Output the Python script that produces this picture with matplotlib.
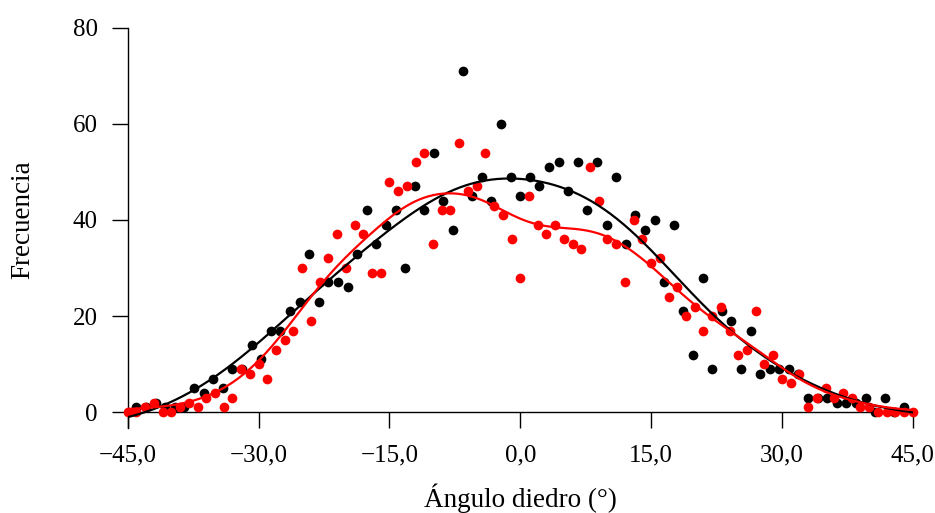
import numpy as np
import matplotlib.pyplot as plt
from matplotlib.ticker import FuncFormatter

plt.rcParams['font.family'] = ['Liberation Serif', 'DejaVu Serif']

# serie negra (paso 1,1 grados)
angulo_negro = [-44.0, -42.9, -41.8, -40.7, -39.6, -38.5, -37.4, -36.3, -35.2, -34.1,
                -33.0, -31.9, -30.8, -29.7, -28.6, -27.5, -26.4, -25.3, -24.2, -23.1,
                -22.0, -20.9, -19.8, -18.7, -17.6, -16.5, -15.4, -14.3, -13.2, -12.1,
                -11.0, -9.9, -8.8, -7.7, -6.6, -5.5, -4.4, -3.3, -2.2, -1.1,
                0.0, 1.1, 2.2, 3.3, 4.4, 5.5, 6.6, 7.7, 8.8, 9.9,
                11.0, 12.1, 13.2, 14.3, 15.4, 16.5, 17.6, 18.7, 19.8, 20.9,
                22.0, 23.1, 24.2, 25.3, 26.4, 27.5, 28.6, 29.7, 30.8, 31.9,
                33.0, 34.1, 35.2, 36.3, 37.4, 38.5, 39.6, 40.7, 41.8, 42.9, 44.0]
frec_negro = [1, 1, 2, 1, 1, 1, 5, 4, 7, 5,
              9, 9, 14, 11, 17, 17, 21, 23, 33, 23,
              27, 27, 26, 33, 42, 35, 39, 42, 30, 47,
              42, 54, 44, 38, 71, 45, 49, 44, 60, 49,
              45, 49, 47, 51, 52, 46, 52, 42, 52, 39,
              49, 35, 41, 38, 40, 27, 39, 21, 12, 28,
              9, 21, 19, 9, 17, 8, 9, 9, 9, 8,
              3, 3, 3, 2, 2, 2, 3, 0, 3, 0, 1]

# serie roja (paso 1 grado)
angulo_rojo = [-45, -44, -43, -42, -41, -40, -39, -38, -37, -36, -35, -34, -33, -32, -31,
               -30, -29, -28, -27, -26, -25, -24, -23, -22, -21, -20, -19, -18, -17, -16,
               -15, -14, -13, -12, -11, -10, -9, -8, -7, -6, -5, -4, -3, -2, -1,
               0, 1, 2, 3, 4, 5, 6, 7, 8, 9, 10, 11, 12, 13, 14, 15,
               16, 17, 18, 19, 20, 21, 22, 23, 24, 25, 26, 27, 28, 29, 30,
               31, 32, 33, 34, 35, 36, 37, 38, 39, 40, 41, 42, 43, 44, 45]
frec_rojo = [0, 0, 1, 2, 0, 0, 1, 2, 1, 3, 4, 1, 3, 9, 8,
             10, 7, 13, 15, 17, 30, 19, 27, 32, 37, 30, 39, 37, 29, 29,
             48, 46, 47, 52, 54, 35, 42, 42, 56, 46, 47, 54, 43, 41, 36,
             28, 45, 39, 37, 39, 36, 35, 34, 51, 44, 36, 35, 27, 40, 36, 31,
             32, 24, 26, 20, 22, 17, 20, 22, 17, 12, 13, 21, 10, 12, 7,
             6, 8, 1, 3, 5, 3, 4, 3, 1, 1, 0, 0, 0, 0, 0]


def suavizar(x, y, malla, h, lineal=False):
    # kernel gaussiano; lineal=True -> regresion local lineal
    x = np.asarray(x, float)
    y = np.asarray(y, float)
    d = x[None, :] - malla[:, None]
    w = np.exp(-0.5 * (d / h) ** 2)
    if not lineal:
        return (w * y).sum(axis=1) / w.sum(axis=1)
    s0 = w.sum(axis=1)
    s1 = (w * d).sum(axis=1)
    s2 = (w * d ** 2).sum(axis=1)
    t0 = (w * y).sum(axis=1)
    t1 = (w * d * y).sum(axis=1)
    return (s2 * t0 - s1 * t1) / (s0 * s2 - s1 ** 2)


malla = np.linspace(-45, 45, 500)

fig, ax = plt.subplots(figsize=(9.35, 5.13), dpi=100)
fig.subplots_adjust(left=0.1366, right=0.9762, top=0.946, bottom=0.1651)

ax.plot(angulo_negro, frec_negro, 'o', color='black', ms=7, mec='none', clip_on=False, zorder=3)
ax.plot(angulo_rojo, frec_rojo, 'o', color='#ff0000', ms=7, mec='none', clip_on=False, zorder=4)
ax.plot(malla, suavizar(angulo_negro, frec_negro, malla, 6.0, lineal=True), color='black', lw=1.6, zorder=5)
ax.plot(malla, suavizar(angulo_rojo, frec_rojo, malla, 4.0), color='#ff0000', lw=1.6, zorder=6)

ax.set_xlim(-45, 45)
ax.set_ylim(-3.33, 80)
ax.set_xticks([-45, -30, -15, 0, 15, 30, 45])
ax.set_yticks([0, 20, 40, 60, 80])
ax.xaxis.set_major_formatter(FuncFormatter(lambda v, p: f"{v:.1f}".replace('.', ',').replace('-', '\u2212')))

ax.spines['top'].set_visible(False)
ax.spines['right'].set_visible(False)
ax.spines['bottom'].set_position(('data', 0))
ax.spines['left'].set_linewidth(1.0)
ax.spines['bottom'].set_linewidth(1.0)
ax.tick_params(direction='out', length=11.5, width=1.0, labelsize=18, pad=12)
ax.tick_params(axis='y', pad=10)

ax.set_xlabel('Ángulo diedro (°)', fontsize=19.5, labelpad=12)
ax.set_ylabel('Frecuencia', fontsize=19.5)
ax.yaxis.set_label_coords(-0.118, 0.52)

fig.savefig('out.png', dpi=100)
